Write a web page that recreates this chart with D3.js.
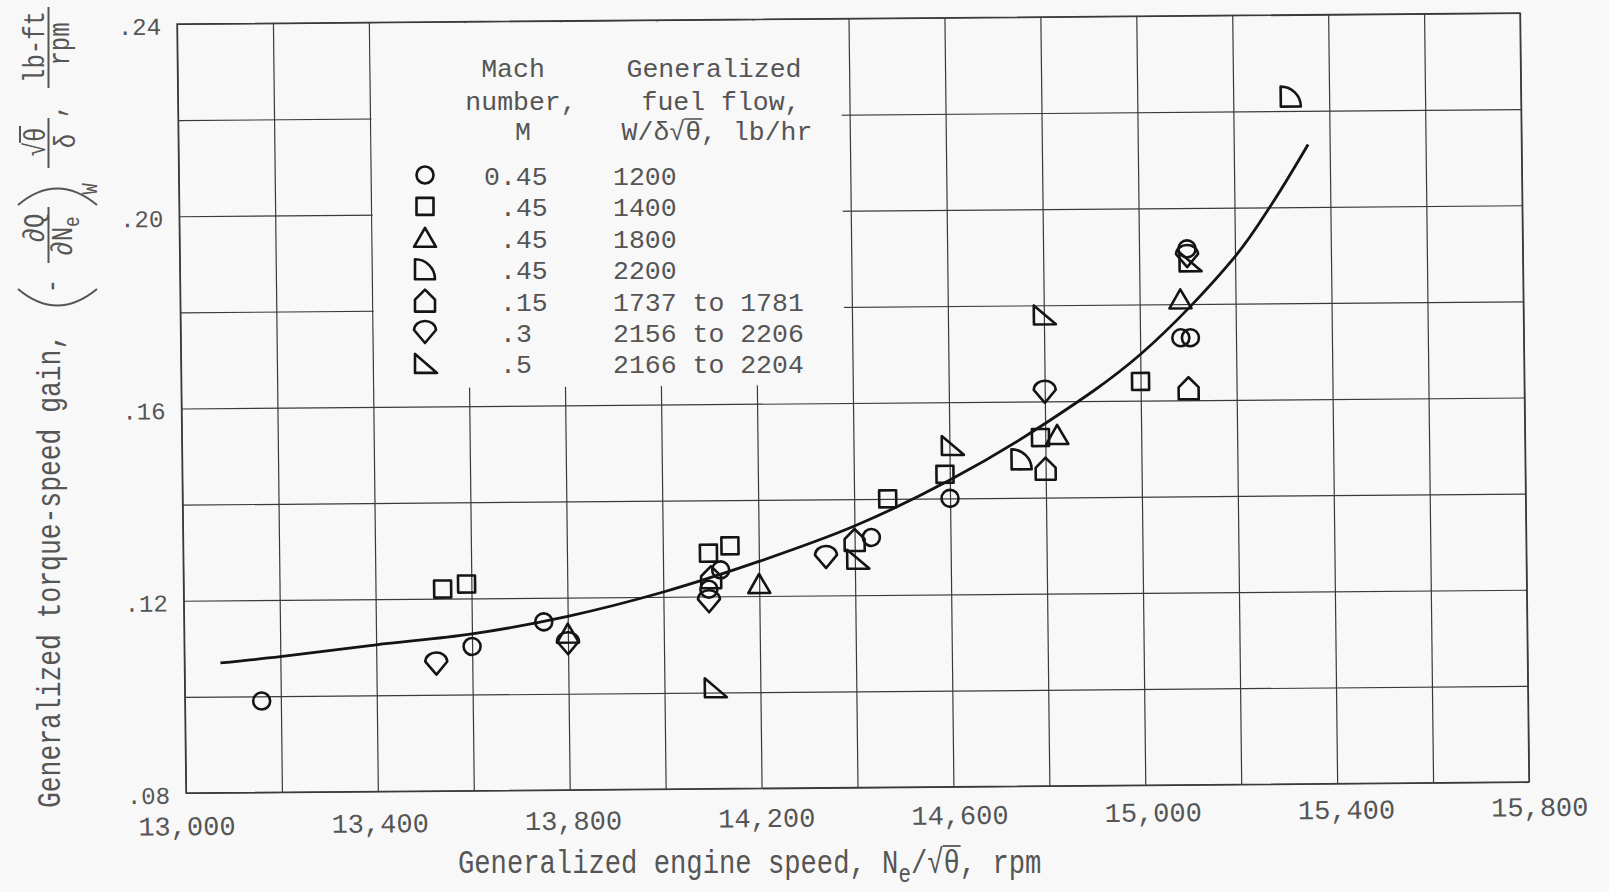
<!DOCTYPE html>
<html><head><meta charset="utf-8">
<script src="https://cdn.jsdelivr.net/npm/d3@7"></script>
<style>
html,body{margin:0;padding:0;background:#f8f8f8;}
svg{display:block;}
text{font-family:"Liberation Mono","Courier New",monospace;fill:#555;}
</style></head><body>
<svg id="chart" width="1609" height="892"></svg>
<script>
// ---------------- data ----------------
const xTickLabels = [13000, 13400, 13800, 14200, 14600, 15000, 15400, 15800];
const yTickLabels = [0.08, 0.12, 0.16, 0.20, 0.24];

// [engine speed rpm, gain]
const circles   = [[13160,0.099],[13600,0.110],[13750,0.115],[14095,0.1215],[14120,0.1255],[14435,0.132],[14600,0.140],[15085,0.173],[15105,0.173],[15100,0.1915]];
const squares   = [[13540,0.122],[13590,0.123],[14095,0.129],[14140,0.1305],[14470,0.140],[14590,0.145],[14790,0.1525],[15000,0.164]];
const triangles = [[13800,0.1125],[14200,0.1225],[14825,0.153],[15085,0.181]];
const quarters  = [[14750,0.148],[15320,0.223]];
const houses    = [[14100,0.124],[14400,0.1315],[14800,0.146],[15100,0.1625]];
const diamonds  = [[13525,0.1065],[13800,0.1105],[14095,0.119],[14340,0.128],[14800,0.162],[15100,0.190]];
const wedges    = [[14105,0.101],[14405,0.1275],[14605,0.151],[14800,0.178],[15105,0.1888]];

const fairedCurve = [[13075,0.107],[13200,0.1082],[13400,0.1105],[13600,0.1126],[13800,0.1161],[14000,0.121],[14200,0.1272],[14400,0.1344],[14600,0.1438],[14800,0.1554],[15000,0.1696],[15200,0.1898],[15280,0.201],[15355,0.213]];

const legendSymbols = ["circle","square","triangle","quarter","house","diamond","wedge"];
const legendMach = ["0.45", ".45", ".45", ".45", ".15", ".3", ".5"];
const legendFuel = ["1200", "1400", "1800", "2200", "1737 to 1781", "2156 to 2206", "2166 to 2204"];

// ---------------- drawing ----------------
const BG = "#f8f8f8", INK = "#141414", GRID = "#3a3a3a", TXT = "#555";
const svg = d3.select("#chart");
svg.append("rect").attr("width",1609).attr("height",892).attr("fill",BG);

const W = 1343, H = 769;
const x = d3.scaleLinear().domain([13000, 15800]).range([0, W]);
const y = d3.scaleLinear().domain([0.08, 0.24]).range([H, 0]);

// scanned sheet is slightly rotated / sheared
const plot = svg.append("g").attr("transform", "matrix(1,-0.0082,0.0117,1,177,24)");

const gridX = d3.range(13000, 15801, 200);
const gridY = d3.range(0, 9).map(i => 0.08 + i * 0.02);
plot.append("g").attr("class","grid").attr("transform",`translate(0,${H})`)
  .call(d3.axisBottom(x).tickValues(gridX).tickSize(-H).tickFormat(""))
  .call(g => g.select(".domain").remove());
plot.append("g").attr("class","grid")
  .call(d3.axisLeft(y).tickValues(gridY).tickSize(-W).tickFormat(""))
  .call(g => g.select(".domain").remove());
plot.selectAll(".grid line").attr("stroke", GRID).attr("stroke-width", 1.2);

// blank area of the legend
plot.append("rect")
  .attr("x", x(13400) + 1.5).attr("y", 1.5)
  .attr("width", x(14400) - 8 - x(13400) - 1.5)
  .attr("height", y(0.16) - 20)
  .attr("fill", BG);

plot.append("rect").attr("width", W).attr("height", H)
  .attr("fill","none").attr("stroke", GRID).attr("stroke-width", 1.4);

// tick labels
const xAxis = plot.append("g").attr("transform", `translate(0,${H})`)
  .call(d3.axisBottom(x).tickValues(xTickLabels).tickSize(0).tickPadding(23).tickFormat(d3.format(",")));
xAxis.select(".domain").remove();
xAxis.attr("font-size", 27);
xAxis.selectAll("text").attr("transform", d => { const t = (d - 13000) / 2800; return `translate(${10*t},${-8*t})`; });

const yAxis = plot.append("g")
  .call(d3.axisLeft(y).tickValues(yTickLabels).tickSize(0).tickPadding(16).tickFormat(d => d3.format(".2f")(d).slice(1)));
yAxis.select(".domain").remove();
yAxis.attr("font-size", 24);
yAxis.selectAll("text").attr("dy", "0.42em");

// faired curve
plot.append("path").datum(fairedCurve)
  .attr("d", d3.line().x(d => x(d[0])).y(d => y(d[1])).curve(d3.curveCatmullRom.alpha(0.5)))
  .attr("fill","none").attr("stroke", INK).attr("stroke-width", 2.8);

// symbols
function shapePath(type) {
  switch (type) {
    case "circle":   return "M8.5,0A8.5,8.5 0 1 1 -8.5,0A8.5,8.5 0 1 1 8.5,0Z";
    case "square":   return "M-8.5,-8.5H8.5V8.5H-8.5Z";
    case "triangle": return "M0,-10L11,9H-11Z";
    case "quarter":  return "M-10,10V-10A20,20 0 0 1 10,10Z";
    case "house":    return "M-10,11H10V-1L0,-11L-10,-1Z";
    case "diamond":  return "M0,11L-11,-2C-10,-14 10,-14 11,-2Z";
    case "wedge":    return "M-10,-9.5V9.5H12Z";
  }
}
const seriesList = [
  ["circle", circles], ["square", squares], ["triangle", triangles], ["quarter", quarters],
  ["house", houses], ["diamond", diamonds], ["wedge", wedges]
];
seriesList.forEach(([type, data]) => {
  plot.append("g").selectAll("path").data(data).join("path")
    .attr("transform", d => `translate(${x(d[0])},${y(d[1])})`)
    .attr("d", shapePath(type))
    .attr("fill","none").attr("stroke", INK).attr("stroke-width", 2.6).attr("stroke-linejoin","round");
});

// ---------------- legend ----------------
const lg = svg.append("g").attr("font-size", 26.5);
function lt(txt, xx, yy, anchor) {
  return lg.append("text").attr("x", xx).attr("y", yy).attr("text-anchor", anchor || "start").text(txt);
}
lt("Mach", 513, 77, "middle");
lt("number,", 521, 110, "middle");
lt("M", 523, 140, "middle");
lt("Generalized", 714, 77, "middle");
lt("fuel flow,", 721, 110, "middle");
{
  const t = lt("W/δ√θ, lb/hr", 717, 140, "middle");
  const n = t.node();
  const s = n.getStartPositionOfChar(4), e = n.getEndPositionOfChar(4);
  lg.append("line").attr("x1", s.x - 1).attr("x2", e.x + 1).attr("y1", 140 - 21).attr("y2", 140 - 21)
    .attr("stroke", TXT).attr("stroke-width", 1.6);
}
const rowBase = legendMach.map((_, i) => 185 + i * 31.4);
legendSymbols.forEach((type, i) => {
  lg.append("path").attr("transform", `translate(425,${rowBase[i] - 10})`).attr("d", shapePath(type))
    .attr("fill","none").attr("stroke", INK).attr("stroke-width", 2.6).attr("stroke-linejoin","round");
  lt(legendMach[i], legendMach[i].startsWith("0") ? 484 : 500, rowBase[i]);
  lt(legendFuel[i], 613, rowBase[i]);
});

// ---------------- x-axis title ----------------
{
  const g = svg.append("g").attr("transform", "translate(458,873) scale(0.8,1)");
  const t = g.append("text").attr("font-size", 34);
  t.append("tspan").text("Generalized engine speed, N");
  t.append("tspan").attr("font-size", 26).attr("dy", 9).text("e");
  t.append("tspan").attr("dy", -9).text("/√θ, rpm");
  const n = t.node();
  const idx = "Generalized engine speed, Ne/√".length;
  const s = n.getStartPositionOfChar(idx), e = n.getEndPositionOfChar(idx);
  g.append("line").attr("x1", s.x - 1).attr("x2", e.x + 1).attr("y1", -27).attr("y2", -27)
    .attr("stroke", TXT).attr("stroke-width", 1.8);
}

// ---------------- y-axis title ----------------
{
  const rg = svg.append("g").attr("transform", "rotate(-90)");
  function rt(txt, u, v, size, sx, anchor) {
    const g = rg.append("g").attr("transform", `translate(${u},${v}) scale(${sx},1)`);
    const t = g.append("text").attr("font-size", size).attr("text-anchor", anchor || "middle").text(txt);
    return [g, t];
  }
  rt("Generalized torque-speed gain,", -808, 60, 34, 0.775, "start");
  rt("-", -286, 61, 30, 0.8);
  rt("∂Q", -228, 44, 30, 0.8);
  {
    const g = rg.append("g").attr("transform", "translate(-236,72) scale(0.8,1)");
    const t = g.append("text").attr("font-size", 30).attr("text-anchor", "middle");
    t.append("tspan").text("∂N");
    t.append("tspan").attr("font-size", 22).attr("dy", 7).text("e");
  }
  rt("W", -189, 97, 22, 0.85);
  {
    const [g, t] = rt("√θ", -142, 45, 30, 0.8);
    const n = t.node();
    const s = n.getStartPositionOfChar(1), e = n.getEndPositionOfChar(1);
    g.append("line").attr("x1", s.x - 1).attr("x2", e.x + 2).attr("y1", -25).attr("y2", -25)
      .attr("stroke", TXT).attr("stroke-width", 2);
  }
  rt("δ", -141, 75, 30, 0.8);
  rt(",", -111, 63, 30, 0.8);
  rt("lb-ft", -47, 44, 30, 0.8);
  rt("rpm", -44, 69, 30, 0.8);

  const sg = svg.append("g").attr("stroke", TXT).attr("fill", "none").attr("stroke-width", 2);
  sg.append("line").attr("x1", 48.5).attr("x2", 48.5).attr("y1", 7).attr("y2", 88);
  sg.append("line").attr("x1", 48.5).attr("x2", 48.5).attr("y1", 118).attr("y2", 168);
  sg.append("line").attr("x1", 48.5).attr("x2", 48.5).attr("y1", 207).attr("y2", 263);
  sg.append("path").attr("d", "M18,289Q57,322 97,289");
  sg.append("path").attr("d", "M18,205Q57,172 97,205");
}
</script>
</body></html>
